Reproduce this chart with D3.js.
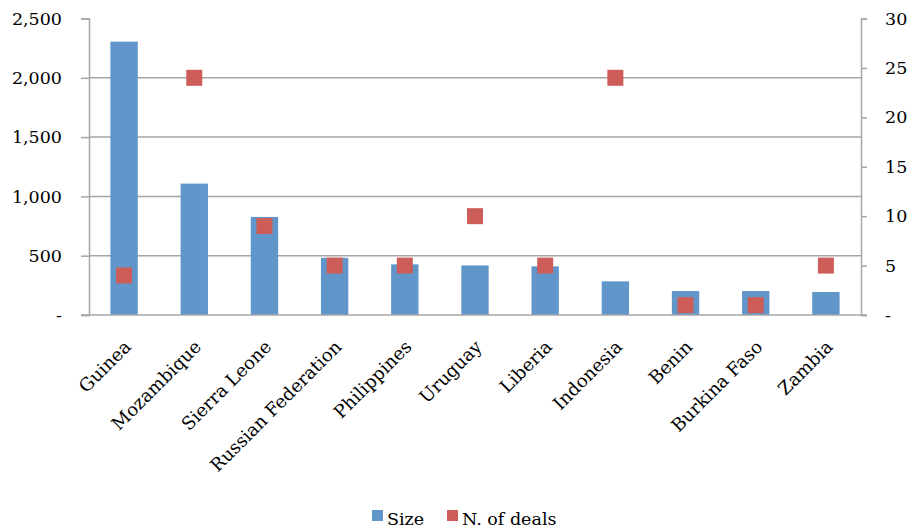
<!DOCTYPE html>
<html><head><meta charset="utf-8">
<script src="https://cdn.jsdelivr.net/npm/d3@7"></script>
<style>
body{margin:0;background:#fff;}
text{font-family:"DejaVu Serif",serif;fill:#000;}
</style></head>
<body><svg id="c" width="912" height="532"></svg>
<script>
const categories = ["Guinea","Mozambique","Sierra Leone","Russian Federation","Philippines","Uruguay","Liberia","Indonesia","Benin","Burkina Faso","Zambia"];
const sizeValues = [2305,1108,827,482,427,418,410,284,202,202,194];
const dealValues = [4,24,9,5,5,10,5,24,1,1,5];
const leftTicks = [0,500,1000,1500,2000,2500];
const rightTicks = [0,5,10,15,20,25,30];
const seriesNames = ["Size","N. of deals"];

const svg = d3.select("#c");
const L = 89, R = 861, T = 18.5, B = 315;
const blue = "#6096C9", red = "#CD5D58", grid = "#A6A6A6";

const x = d3.scaleBand().domain(categories).range([L,R]).paddingInner(0.61).paddingOuter(0.305);
const yL = d3.scaleLinear().domain([0,2500]).range([B,T]);
const yR = d3.scaleLinear().domain([0,30]).range([B,T]);
const fmt = d => d === 0 ? "-" : d3.format(",")(d);

// gridlines
svg.append("g").selectAll("line").data(leftTicks.filter(d => d>0 && d<2500)).join("line")
  .attr("x1",L).attr("x2",R).attr("y1",d=>yL(d)).attr("y2",d=>yL(d))
  .attr("stroke",grid).attr("stroke-width",1.5);

// bars
svg.append("g").selectAll("rect").data(categories).join("rect")
  .attr("x",d=>x(d)).attr("width",x.bandwidth())
  .attr("y",(d,i)=>yL(sizeValues[i])).attr("height",(d,i)=>B-yL(sizeValues[i]))
  .attr("fill",blue);

// left axis
const ax = d3.axisLeft(yL).tickValues(leftTicks).tickFormat(fmt).tickSize(8).tickPadding(19);
const gL = svg.append("g").attr("transform",`translate(${L},0)`).call(ax);
gL.select(".domain").attr("stroke",grid).attr("stroke-width",1.5);
gL.selectAll(".tick line").attr("stroke",grid).attr("stroke-width",1.5);
gL.selectAll(".tick text").attr("font-size",17.5).attr("font-family","DejaVu Serif").attr("fill","#000");

// right axis
const ar = d3.axisRight(yR).tickValues(rightTicks).tickFormat(fmt).tickSize(6).tickPadding(18);
const gR = svg.append("g").attr("transform",`translate(${R},0)`).call(ar);
gR.select(".domain").attr("stroke",grid).attr("stroke-width",1.5);
gR.selectAll(".tick line").attr("stroke",grid).attr("stroke-width",1.5);
gR.selectAll(".tick text").attr("font-size",17.5).attr("font-family","DejaVu Serif").attr("fill","#000");

// bottom axis line
svg.append("line").attr("x1",L-8).attr("x2",R+6).attr("y1",B).attr("y2",B).attr("stroke",grid).attr("stroke-width",1.5);

// deal markers
const ms = 16;
svg.append("g").selectAll("rect").data(categories).join("rect")
  .attr("x",d=>x(d)+x.bandwidth()/2-ms/2).attr("y",(d,i)=>yR(dealValues[i])-ms/2)
  .attr("width",ms).attr("height",ms).attr("fill",red);

// x labels
svg.append("g").selectAll("text").data(categories).join("text")
  .attr("transform",d=>`translate(${x(d)+x.bandwidth()/2+8},${B+33}) rotate(-45)`)
  .attr("text-anchor","end").attr("font-size",18).text(d=>d);

// legend
const lg = svg.append("g");
const items = [{n:seriesNames[0],c:blue,x:372},{n:seriesNames[1],c:red,x:447}];
items.forEach(it=>{
  lg.append("rect").attr("x",it.x).attr("y",510).attr("width",11).attr("height",11).attr("fill",it.c);
  lg.append("text").attr("x",it.x+15).attr("y",525).attr("font-size",17.5).text(it.n);
});
</script></body></html>
